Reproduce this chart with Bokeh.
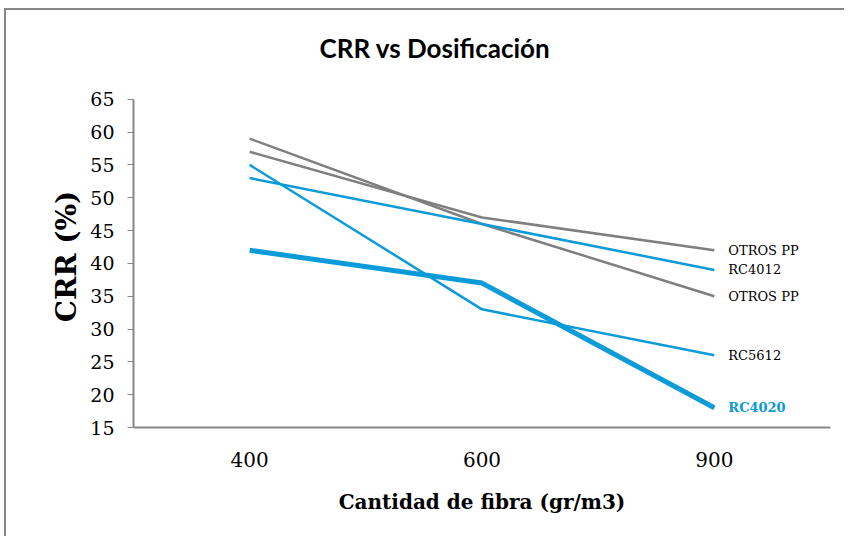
from bokeh.plotting import figure
from bokeh.models import Range1d, FixedTicker, ColumnDataSource
from bokeh.core.properties import value
from bokeh.embed import file_html
from bokeh.resources import INLINE

categories = ["400", "600", "900"]
otros_pp_a = [59, 46, 35]
otros_pp_b = [57, 47, 42]
rc4012 = [53, 46, 39]
rc5612 = [55, 33, 26]
rc4020 = [42, 37, 18]
y_ticks = [15, 20, 25, 30, 35, 40, 45, 50, 55, 60, 65]
title_text = "CRR vs Dosificación"

GRAY = "#7f7f7f"
BLUE = "#0a9bd8"
SERIF = "DejaVu Serif"

p = figure(width=840, height=528, x_range=categories, y_range=Range1d(15, 67.1),
           output_backend="svg", toolbar_location=None, title=title_text,
           min_border_left=127, min_border_right=16, min_border_top=75, min_border_bottom=111)

p.title.text_font = "Lato"
p.title.text_font_size = "26px"
p.title.text_font_style = "bold"
p.title.align = "left"
p.title.offset = 186
p.title.vertical_align = "top"
p.title.standoff = 40
p.title.text_color = "#000000"

p.outline_line_color = None
p.xgrid.grid_line_color = None
p.ygrid.grid_line_color = None
p.background_fill_color = "white"
p.border_fill_color = "white"
p.styles = {"border-left": "2px solid #878787", "border-top": "2px solid #878787",
            "margin-left": "4px", "margin-top": "8px"}

series = [
    (otros_pp_a, GRAY, 2.5), (otros_pp_b, GRAY, 2.5),
    (rc4012, BLUE, 2.5), (rc5612, BLUE, 2.5), (rc4020, BLUE, 5),
]
for vals, col, w in series:
    p.line(categories, vals, line_color=col, line_width=w)

labels = ["OTROS PP", "RC4012", "OTROS PP", "RC5612", "RC4020"]
label_vals = [otros_pp_b[-1], rc4012[-1], otros_pp_a[-1], rc5612[-1], rc4020[-1]]
label_colors = ["#000000", "#000000", "#000000", "#000000", BLUE]
label_styles = ["normal", "normal", "normal", "normal", "bold"]
src = ColumnDataSource(dict(x=[categories[-1]] * 5, y=label_vals, t=labels,
                            c=label_colors, s=label_styles))
p.text(x="x", y="y", text="t", source=src, x_offset=14, text_color="c",
       text_font_style="s", text_font=value(SERIF), text_font_size="13px",
       text_baseline="middle", text_align="left")

ax = p.xaxis[0]
ax.axis_label = "Cantidad de fibra (gr/m3)"
ax.axis_label_text_font = SERIF
ax.axis_label_text_font_style = "bold"
ax.axis_label_text_font_size = "20px"
ax.axis_label_text_color = "#000000"
ax.axis_label_standoff = 20
ax.major_label_text_font = SERIF
ax.major_label_text_font_size = "20px"
ax.major_label_standoff = 18
ax.major_tick_line_color = None
ax.minor_tick_line_color = None
ax.axis_line_color = "#878787"
ax.axis_line_width = 2

ay = p.yaxis[0]
ay.ticker = FixedTicker(ticks=y_ticks)
ay.bounds = (y_ticks[0], y_ticks[-1])
ay.axis_label = "CRR (%)"
ay.axis_label_text_font = SERIF
ay.axis_label_text_font_style = "bold"
ay.axis_label_text_font_size = "28px"
ay.axis_label_text_color = "#000000"
ay.axis_label_standoff = 4
ay.major_label_text_font = SERIF
ay.major_label_text_font_size = "19px"
ay.major_label_standoff = 13
ay.major_tick_out = 6
ay.major_tick_in = 0
ay.minor_tick_line_color = None
ay.axis_line_color = "#878787"
ay.major_tick_line_color = "#878787"
ay.axis_line_width = 2
ay.major_label_text_color = "#000000"
ax.major_label_text_color = "#000000"

open("out.html", "w").write(file_html(p, INLINE))
